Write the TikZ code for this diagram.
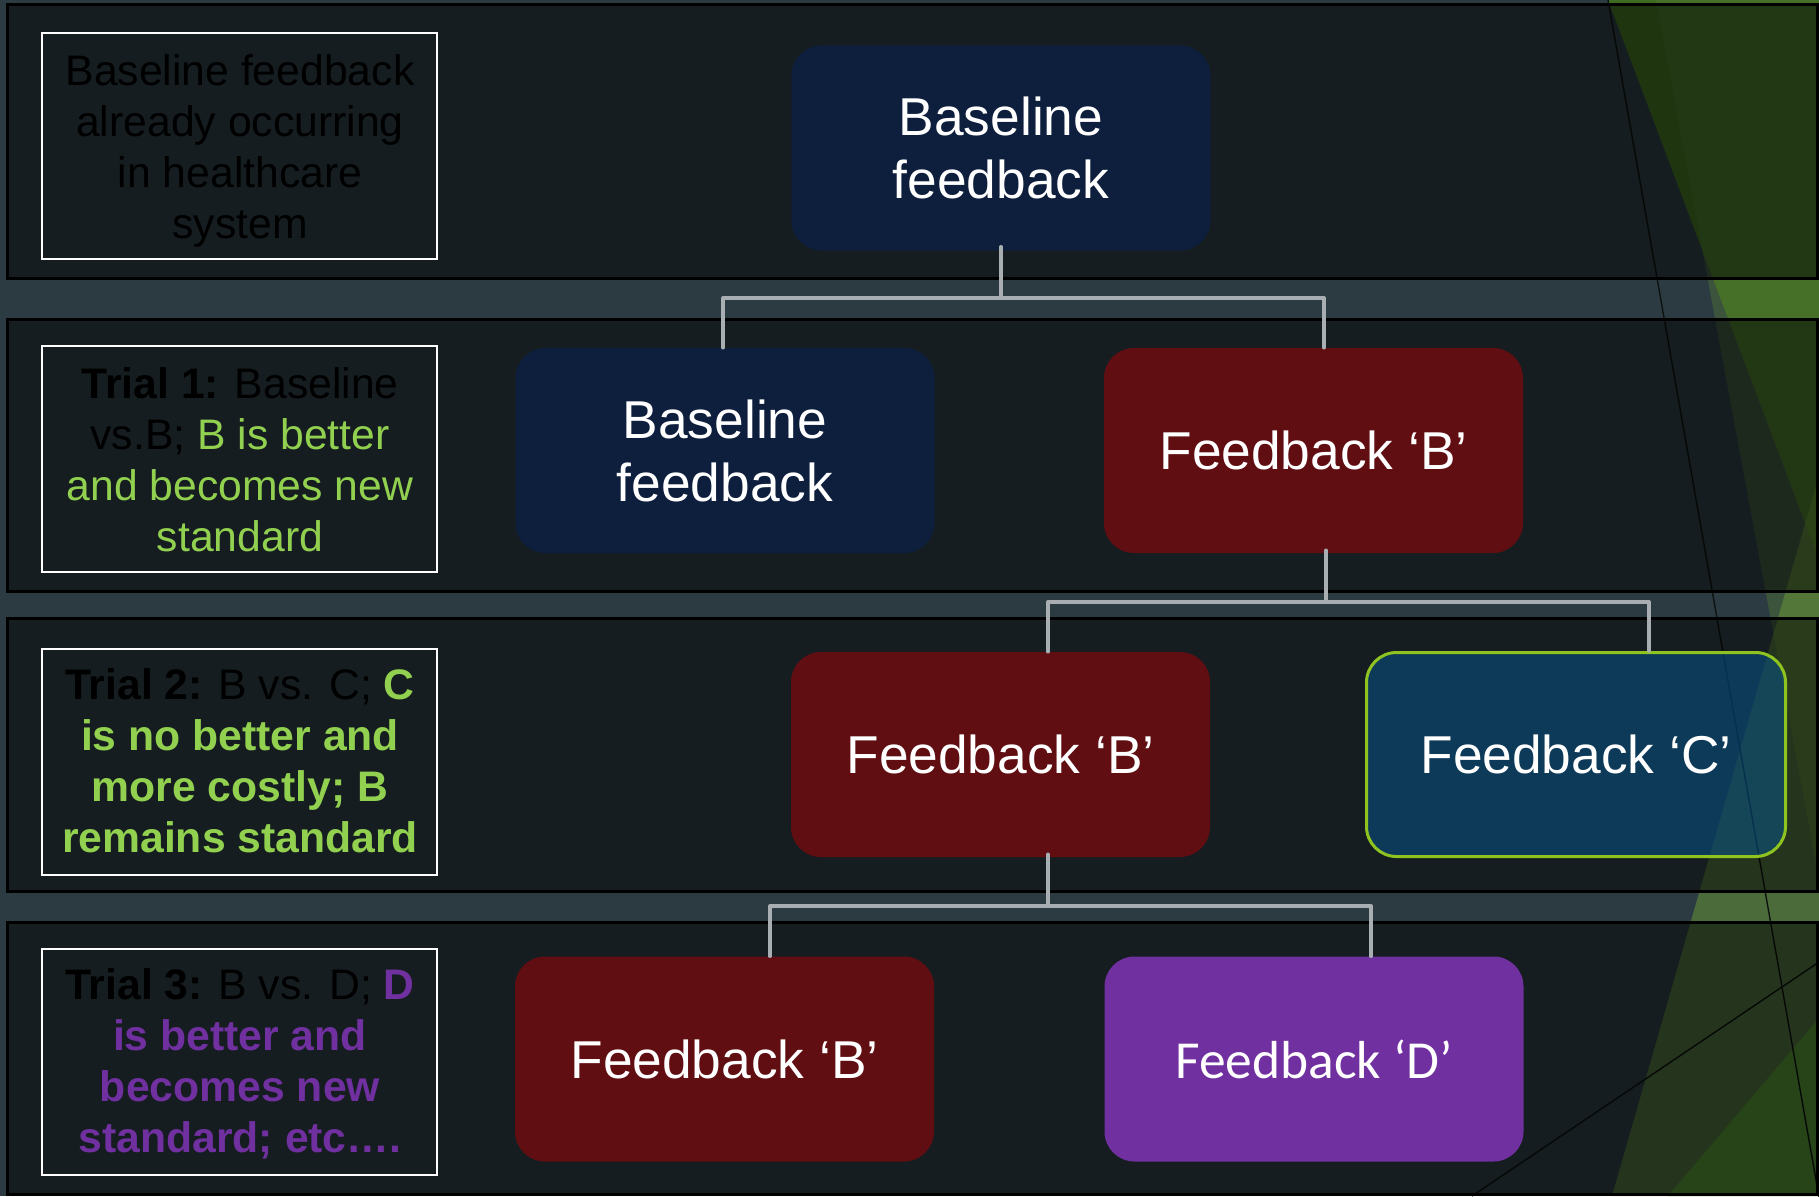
\documentclass[tikz,border=0pt]{standalone}
\usepackage{fontspec}
\setmainfont{Liberation Sans}
\newfontfamily\carlitofont{Carlito}
\usetikzlibrary{calc}
\definecolor{bgslate}{RGB}{44,59,66}
\definecolor{decoA}{RGB}{62,107,34}
\definecolor{decoB}{RGB}{84,121,51}
\definecolor{decoC}{RGB}{106,155,54}
\definecolor{decoD}{RGB}{78,142,46}
\definecolor{thinln}{RGB}{14,18,14}
\definecolor{navyfill}{RGB}{14,31,61}
\definecolor{redfill}{RGB}{96,14,18}
\definecolor{bluefill}{RGB}{6,88,147}
\definecolor{limeline}{RGB}{143,195,31}
\definecolor{purplefill}{RGB}{112,48,160}
\definecolor{tgreen}{RGB}{146,208,80}
\definecolor{tpurple}{RGB}{112,48,160}
\definecolor{conngray}{RGB}{168,174,177}
\tikzset{
  band/.style={draw=black, line width=3pt, fill=black, fill opacity=0.5},
  leftbox/.style={draw=white, line width=2pt, minimum width=395pt, minimum height=226pt, inner sep=0pt},
  lefttext/.style={align=center, inner sep=0pt, text=black, font=\fontsize{42.7pt}{51pt}\selectfont},
  nodebox/.style={rounded corners=30pt, minimum width=419pt, minimum height=205pt, inner sep=0pt,
    text=white, align=center, font=\fontsize{53.3pt}{63pt}\selectfont},
  conn/.style={draw=conngray, line width=3.4pt, line cap=round},
  thinline/.style={draw=thinln, line width=1.4pt}
}
\begin{document}
\begin{tikzpicture}[x=1pt,y=-1pt]
\useasboundingbox (0,0) rectangle (1819,1196);
\fill[bgslate] (0,0) rectangle (1819,1196);
% decorative facets on the right
\fill[decoA] (1608,0) -- (1819,0) -- (1819,560) -- cycle;
\fill[decoB, opacity=0.4] (1656,0) -- (1819,0) -- (1819,880) -- cycle;
\fill[decoC, opacity=0.5] (1612,1196) -- (1819,1196) -- (1819,475) -- cycle;
\fill[decoD, opacity=0.9] (1668,1196) -- (1819,1196) -- (1819,1018) -- cycle;
\draw[thinline] (1608,0) -- (1819,1197);
\draw[thinline] (1472,1196) -- (1819,962);
% bands
\draw[band] (7,5) rectangle (1817,278);
\draw[band] (7,319) rectangle (1817,591);
\draw[band] (7,618) rectangle (1817,891);
\draw[band] (7,922) rectangle (1817,1194);
% left description boxes
\node[leftbox] (T0) at (239.5,146) {};
\node[leftbox] (T1) at (239.5,458.5) {};
\node[leftbox] (T2) at (239.5,761.5) {};
\node[leftbox] (T3) at (239.5,1061.5) {};
\node[lefttext] (X0) at (240,151) {Baseline feedback\\already occurring\\in healthcare\\system};
\node[lefttext] (X1) at (240,460) {\textbf{Trial 1:} Baseline\\vs.B; \textcolor{tgreen}{B is better}\\\textcolor{tgreen}{and becomes new}\\\textcolor{tgreen}{standard}};
\node[lefttext] (X2) at (240,761) {\textbf{Trial 2:} B vs. C; \textbf{\textcolor{tgreen}{C}}\\\textbf{\textcolor{tgreen}{is no better and}}\\\textbf{\textcolor{tgreen}{more costly; B}}\\\textbf{\textcolor{tgreen}{remains standard}}};
\node[lefttext] (X3) at (240,1064) {\textbf{Trial 3:} B vs. D; \textbf{\textcolor{tpurple}{D}}\\\textbf{\textcolor{tpurple}{is better and}}\\\textbf{\textcolor{tpurple}{becomes new}}\\\textbf{\textcolor{tpurple}{standard; etc….}}};
% tree nodes
\node[nodebox, fill=navyfill] (A) at (1001,148) {Baseline\\feedback};
\node[nodebox, fill=navyfill] (B0) at (725,450.5) {Baseline\\feedback};
\node[nodebox, fill=redfill] (B1) at (1313.5,450.5) {Feedback ‘B’};
\node[nodebox, fill=redfill] (C0) at (1000.5,754.5) {Feedback ‘B’};
\node[nodebox, fill=bluefill, fill opacity=0.5, text opacity=1, draw=limeline, line width=3pt, minimum width=419pt, minimum height=204pt] (C1) at (1576,754.5) {Feedback ‘C’};
\node[nodebox, fill=redfill] (D0) at (724.5,1059) {Feedback ‘B’};
\node[nodebox, fill=purplefill, font=\carlitofont\fontsize{53.5pt}{63pt}\selectfont] (D1) at (1314,1059) {Feedback ‘D’};
% connectors
\coordinate (k1) at (1001,298);
\coordinate (k1l) at (723,298);
\coordinate (k1r) at (1324,298);
\draw[conn] ([yshift=4pt]A.south) -- (k1);
\draw[conn] (k1l) -- (k1r);
\draw[conn] (k1l) -- (k1l |- B0.north);
\draw[conn] (k1r) -- (k1r |- B1.north);
\coordinate (k2) at (1326,602);
\coordinate (k2l) at (1048,602);
\coordinate (k2r) at (1649,602);
\draw[conn] ([yshift=3pt]k2 |- B1.south) -- (k2);
\draw[conn] (k2l) -- (k2r);
\draw[conn] (k2l) -- (k2l |- C0.north);
\draw[conn] (k2r) -- (k2r |- C1.north);
\coordinate (k3) at (1048,906);
\coordinate (k3l) at (770,906);
\coordinate (k3r) at (1371,906);
\draw[conn] ([yshift=3pt]k3 |- C0.south) -- (k3);
\draw[conn] (k3l) -- (k3r);
\draw[conn] (k3l) -- (k3l |- D0.north);
\draw[conn] (k3r) -- (k3r |- D1.north);
\end{tikzpicture}
\end{document}
